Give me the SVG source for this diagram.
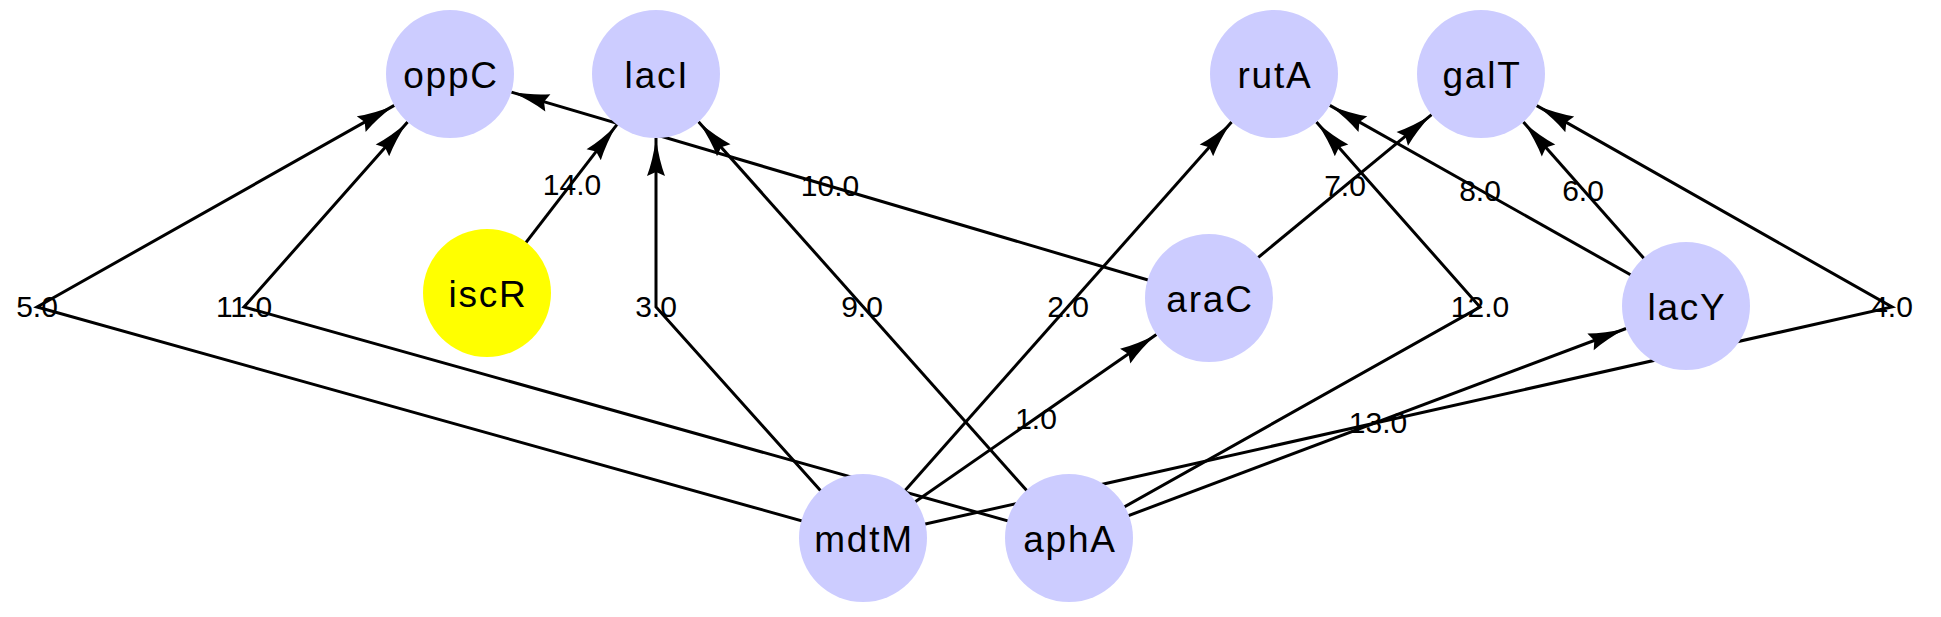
<svg xmlns="http://www.w3.org/2000/svg" width="1941" height="617" viewBox="0 0 1941 617">
<defs>
<style>
.e{fill:none;stroke:#000;stroke-width:3;marker-end:url(#arr)}
.el{font-family:"Liberation Sans",Arial,sans-serif;font-size:30px;fill:#000;text-anchor:middle}
.n{fill:#CCCCFF}
.y{fill:#FFFF00}
.nl{font-family:"Liberation Sans",Arial,sans-serif;font-size:37px;letter-spacing:1.8px;fill:#000;text-anchor:middle}
</style>
<marker id="arr" markerUnits="userSpaceOnUse" markerWidth="44" markerHeight="24" viewBox="-40 -12 44 24" refX="0" refY="0" orient="auto">
<path d="M0,0 Q-22,-3 -38,-9 L-34,0 L-38,9 Q-22,3 0,0 Z" fill="#000"/>
</marker>
</defs>
<g id="connectors">
<path class="e" d="M863,538 L1156.4,334.5"/>
<path class="e" d="M863,538 L1231.6,121.9"/>
<path class="e" d="M863,538 L656,307 L656,138"/>
<path class="e" d="M863,538 L1892,307 L1536.7,105.6"/>
<path class="e" d="M863,538 L37,307 L394.3,105.4"/>
<path class="e" d="M1686,306 L1523.4,122"/>
<path class="e" d="M1209,298 L1431.6,114.7"/>
<path class="e" d="M1686,306 L1329.8,105.4"/>
<path class="e" d="M1069,538 L698.5,121.8"/>
<path class="e" d="M1209,298 L511.4,92.1"/>
<path class="e" d="M1069,538 L244,307 L407.6,121.9"/>
<path class="e" d="M1069,538 L1480,307 L1316.4,121.9"/>
<path class="e" d="M1069,538 L1626.1,328.5"/>
<path class="e" d="M487,293 L616.9,124.7"/>
<text class="el" x="1036" y="429">1.0</text>
<text class="el" x="1068" y="317">2.0</text>
<text class="el" x="656" y="317">3.0</text>
<text class="el" x="1892" y="317">4.0</text>
<text class="el" x="37" y="317">5.0</text>
<text class="el" x="1583" y="201">6.0</text>
<text class="el" x="1345" y="196">7.0</text>
<text class="el" x="1480" y="201">8.0</text>
<text class="el" x="862" y="317">9.0</text>
<text class="el" x="830" y="196">10.0</text>
<text class="el" x="244" y="317">11.0</text>
<text class="el" x="1480" y="317">12.0</text>
<text class="el" x="1378" y="433">13.0</text>
<text class="el" x="572" y="195">14.0</text>
</g>
<g id="oppC"><circle class="n" cx="450" cy="74" r="64"/><text class="nl" x="451" y="88">oppC</text></g>
<g id="lacI"><circle class="n" cx="656" cy="74" r="64"/><text class="nl" x="657" y="88">lacI</text></g>
<g id="rutA"><circle class="n" cx="1274" cy="74" r="64"/><text class="nl" x="1275" y="88">rutA</text></g>
<g id="galT"><circle class="n" cx="1481" cy="74" r="64"/><text class="nl" x="1482" y="88">galT</text></g>
<g id="iscR"><circle class="y" cx="487" cy="293" r="64"/><text class="nl" x="488" y="307">iscR</text></g>
<g id="araC"><circle class="n" cx="1209" cy="298" r="64"/><text class="nl" x="1210" y="312">araC</text></g>
<g id="lacY"><circle class="n" cx="1686" cy="306" r="64"/><text class="nl" x="1687" y="320">lacY</text></g>
<g id="mdtM"><circle class="n" cx="863" cy="538" r="64"/><text class="nl" x="864" y="552">mdtM</text></g>
<g id="aphA"><circle class="n" cx="1069" cy="538" r="64"/><text class="nl" x="1070" y="552">aphA</text></g>
</svg>
